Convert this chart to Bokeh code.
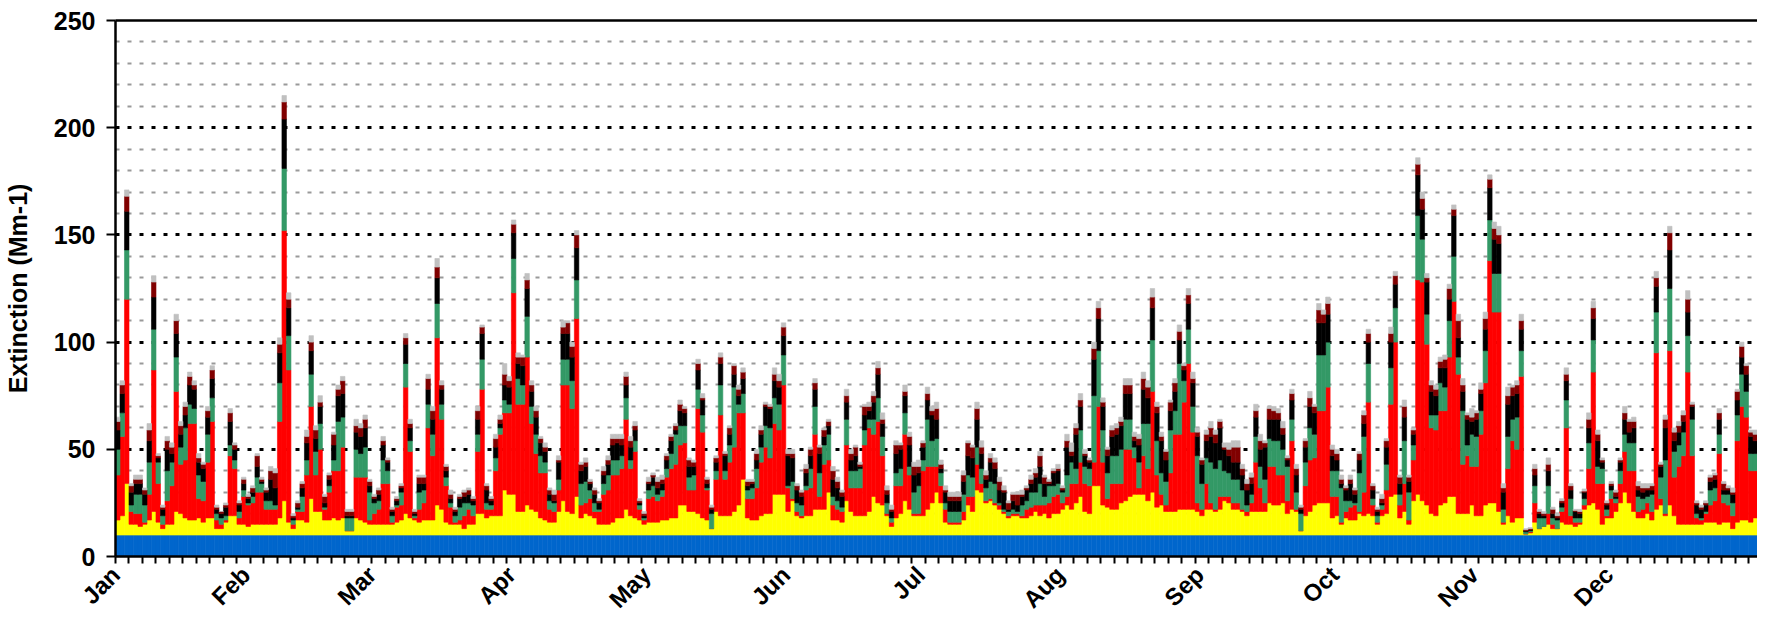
import math
import numpy as np
from bokeh.plotting import figure
from bokeh.models import Range1d, FixedTicker, ColumnDataSource, LinearAxis
from bokeh.embed import file_html
from bokeh.resources import INLINE

# ---- data: cumulative stack levels (Mm-1), one value per day ----
RAYLEIGH = 10

sulfate_top = [
    17, 19, 34, 15, 15, 14, 15, 17, 21, 16,
    13, 15, 15, 21, 20, 18, 17, 17, 18, 16,
    18, 18, 13, 13, 16, 19, 19, 15, 15, 14,
    15, 15, 15, 15, 15, 15, 18, 26, 16, 13,
    17, 17, 16, 27, 21, 21, 17, 17, 18, 17,
    18, 12, 12, 18, 17, 16, 15, 15, 15, 15,
    15, 15, 16, 17, 20, 18, 17, 16, 17, 17,
    17, 24, 22, 16, 15, 15, 15, 13, 15, 15,
    20, 20, 18, 19, 19, 19, 31, 29, 29, 21,
    21, 24, 22, 21, 18, 17, 16, 16, 21, 26,
    21, 20, 28, 18, 20, 19, 18, 15, 15, 15,
    16, 18, 18, 22, 19, 18, 17, 15, 16, 16,
    16, 17, 17, 18, 18, 24, 24, 21, 21, 20,
    18, 17, 13, 21, 19, 19, 19, 21, 24, 36,
    18, 17, 17, 19, 20, 20, 29, 29, 29, 21,
    26, 19, 18, 19, 19, 22, 22, 22, 30, 17,
    17, 16, 26, 21, 19, 19, 19, 21, 28, 25,
    24, 19, 14, 18, 20, 26, 22, 19, 19, 19,
    22, 25, 30, 25, 16, 15, 15, 15, 17, 24,
    21, 31, 30, 25, 26, 24, 22, 20, 18, 19,
    19, 18, 18, 19, 21, 19, 20, 18, 20, 20,
    22, 24, 22, 25, 28, 21, 20, 33, 33, 24,
    23, 22, 22, 25, 26, 28, 29, 29, 29, 26,
    30, 23, 24, 21, 21, 21, 22, 22, 22, 22,
    21, 19, 22, 22, 21, 22, 26, 25, 22, 22,
    21, 19, 21, 21, 21, 21, 25, 24, 24, 25,
    20, 22, 21, 12, 19, 21, 24, 25, 25, 25,
    18, 19, 15, 18, 17, 17, 20, 19, 20, 19,
    15, 19, 20, 28, 29, 18, 21, 15, 26, 29,
    26, 24, 20, 19, 24, 25, 28, 28, 20, 20,
    20, 24, 19, 19, 24, 25, 25, 21, 15, 19,
    16, 18, 18, 10.5, 11, 16, 13, 14, 15, 13,
    13, 16, 15, 15, 14, 15, 22, 24, 25, 22,
    15, 18, 18, 21, 25, 30, 25, 21, 18, 18,
    20, 17, 22, 24, 19, 24, 19, 15, 15, 15,
    15, 15, 15, 16, 16, 16, 15, 16, 16, 13,
    16, 17, 17, 16, 18,
]

nitrate_top = [
    38, 56, 120, 21, 20, 20, 16, 29, 87, 34,
    15, 26, 33, 77, 43, 45, 62, 62, 27, 26,
    44, 63, 17, 15, 17, 47, 41, 18, 28, 24,
    25, 30, 30, 22, 22, 22, 63, 152, 87, 15,
    21, 21, 38, 70, 38, 50, 22, 30, 40, 40,
    51, 12, 12, 37, 37, 37, 17, 20, 22, 34,
    34, 16, 23, 24, 79, 49, 18, 22, 25, 60,
    47, 102, 64, 33, 23, 16, 17, 19, 22, 19,
    49, 78, 22, 22, 40, 57, 67, 67, 123, 71,
    71, 93, 62, 48, 39, 39, 22, 21, 31, 80,
    80, 69, 111, 24, 25, 27, 21, 21, 29, 31,
    38, 38, 41, 64, 41, 49, 22, 17, 27, 28,
    26, 28, 37, 41, 43, 52, 53, 31, 31, 69,
    58, 31, 13, 36, 66, 36, 44, 51, 67, 67,
    27, 27, 32, 44, 51, 46, 62, 59, 80, 32,
    27, 21, 19, 31, 32, 57, 28, 43, 45, 24,
    22, 21, 52, 32, 32, 32, 52, 60, 57, 63,
    47, 20, 16, 33, 33, 57, 38, 20, 20, 40,
    42, 42, 42, 33, 22, 16, 16, 16, 21, 28,
    28, 43, 34, 26, 27, 25, 24, 21, 19, 20,
    20, 19, 22, 23, 24, 24, 24, 25, 28, 29,
    25, 28, 34, 34, 44, 34, 33, 44, 70, 44,
    27, 34, 34, 34, 50, 50, 46, 32, 47, 41,
    77, 38, 29, 24, 39, 57, 57, 72, 90, 58,
    25, 22, 34, 25, 22, 28, 28, 28, 25, 25,
    22, 21, 25, 44, 32, 25, 42, 42, 38, 38,
    26, 54, 22, 12, 33, 45, 46, 68, 68, 79,
    28, 28, 16, 21, 23, 24, 21, 30, 72, 24,
    16, 22, 31, 71, 100, 24, 34, 17, 45, 129,
    128, 99, 60, 59, 68, 68, 93, 119, 85, 43,
    47, 42, 42, 57, 81, 138, 114, 114, 16, 41,
    54, 50, 84, 10.5, 11.5, 25, 13, 14, 20, 15,
    13, 21, 60, 19, 16, 16, 24, 41, 86, 34,
    34, 19, 27, 25, 34, 49, 40, 40, 21, 22,
    25, 21, 95, 27, 20, 96, 37, 42, 47, 86,
    47, 18, 17, 20, 24, 26, 48, 25, 24, 19,
    54, 70, 65, 40, 40,
]

organic_top = [
    50, 67, 143, 24, 29, 29, 24, 44, 106, 44,
    19, 40, 44, 93, 51, 60, 71, 69, 38, 35,
    57, 74, 20, 18, 19, 52, 45, 21, 31, 25,
    28, 37, 34, 26, 26, 24, 81, 181, 103, 17,
    22, 28, 45, 85, 49, 62, 23, 33, 45, 63,
    65, 18, 18, 50, 48, 51, 30, 25, 26, 45,
    40, 19, 24, 30, 90, 54, 19, 30, 31, 71,
    57, 118, 71, 37, 25, 19, 23, 25, 25, 24,
    57, 92, 25, 24, 46, 60, 73, 71, 139, 83,
    80, 112, 70, 57, 47, 44, 26, 25, 36, 92,
    92, 82, 129, 34, 35, 31, 25, 22, 34, 38,
    45, 45, 47, 74, 45, 54, 24, 18, 31, 33,
    29, 31, 41, 48, 57, 61, 61, 37, 38, 78,
    66, 32, 20, 40, 80, 40, 52, 79, 71, 76,
    31, 32, 41, 51, 61, 60, 74, 71, 94, 33,
    35, 25, 24, 33, 41, 70, 39, 52, 57, 28,
    26, 23, 64, 40, 40, 41, 59, 64, 64, 74,
    56, 25, 18, 39, 41, 67, 42, 30, 33, 45,
    64, 54, 55, 39, 25, 21, 21, 21, 29, 38,
    37, 51, 41, 32, 35, 34, 25, 22, 21, 22,
    21, 24, 26, 30, 30, 34, 28, 33, 33, 34,
    30, 38, 44, 41, 59, 42, 41, 75, 96, 59,
    39, 47, 47, 50, 64, 64, 51, 44, 62, 62,
    101, 54, 39, 35, 59, 68, 90, 82, 106, 70,
    47, 34, 46, 44, 41, 45, 40, 39, 36, 36,
    31, 24, 29, 56, 42, 36, 55, 54, 54, 50,
    42, 64, 30, 20, 44, 60, 57, 94, 94, 100,
    40, 40, 32, 26, 26, 25, 39, 56, 90, 27,
    19, 24, 43, 88, 116, 29, 54, 30, 52, 159,
    148, 113, 66, 66, 81, 79, 110, 140, 93, 68,
    52, 57, 56, 68, 96, 157, 132, 132, 22, 56,
    64, 65, 96, 11.5, 12, 33, 18, 18, 33, 18,
    17, 23, 73, 27, 18, 18, 27, 53, 101, 42,
    41, 22, 31, 27, 40, 57, 53, 53, 28, 27,
    28, 29, 114, 37, 45, 125, 49, 52, 58, 103,
    64, 20, 18, 21, 31, 32, 57, 29, 29, 25,
    66, 85, 77, 48, 48,
]

ec_top = [
    59, 76, 161, 30, 34, 34, 29, 54, 121, 46,
    22, 50, 48, 104, 57, 66, 80, 78, 44, 41,
    65, 83, 22, 20, 23, 63, 50, 24, 34, 27,
    30, 42, 35, 30, 36, 32, 95, 204, 116, 18,
    23, 32, 53, 96, 55, 70, 25, 36, 52, 75,
    76, 19, 19, 58, 56, 60, 33, 27, 29, 52,
    44, 21, 26, 32, 99, 60, 20, 34, 34, 78,
    64, 130, 78, 40, 27, 21, 27, 28, 29, 26,
    64, 104, 31, 26, 51, 62, 80, 79, 151, 90,
    89, 125, 77, 65, 53, 49, 29, 26, 44, 104,
    104, 93, 144, 40, 42, 34, 29, 25, 38, 43,
    52, 53, 52, 80, 51, 59, 25, 19, 34, 37,
    32, 34, 45, 54, 59, 68, 67, 42, 42, 87,
    73, 34, 22, 44, 90, 47, 57, 85, 75, 83,
    33, 34, 45, 57, 70, 69, 82, 79, 103, 47,
    46, 31, 28, 39, 47, 78, 48, 56, 61, 36,
    32, 28, 72, 45, 47, 42, 66, 68, 72, 85,
    62, 29, 21, 48, 50, 75, 52, 38, 39, 51,
    73, 66, 64, 41, 30, 26, 26, 26, 35, 47,
    46, 64, 48, 36, 44, 41, 31, 30, 22, 26,
    24, 28, 31, 34, 37, 42, 34, 34, 39, 40,
    31, 51, 47, 57, 70, 47, 44, 92, 111, 70,
    47, 56, 57, 61, 76, 76, 54, 52, 78, 74,
    116, 67, 54, 45, 68, 77, 101, 87, 118, 81,
    56, 43, 54, 56, 53, 60, 50, 47, 44, 44,
    38, 31, 34, 65, 50, 51, 64, 64, 64, 57,
    45, 73, 38, 22, 51, 70, 67, 109, 109, 113,
    47, 45, 34, 31, 34, 29, 45, 62, 100, 31,
    21, 25, 51, 100, 127, 34, 65, 35, 57, 178,
    162, 128, 77, 75, 88, 88, 120, 159, 102, 77,
    64, 63, 64, 76, 106, 172, 148, 146, 30, 71,
    75, 76, 106, 12, 12.5, 38, 20, 19, 40, 20,
    18, 25, 82, 31, 21, 20, 30, 60, 111, 54,
    44, 24, 33, 28, 44, 64, 58, 60, 31, 30,
    31, 31, 126, 42, 60, 143, 54, 58, 63, 114,
    70, 24, 22, 24, 35, 36, 64, 31, 31, 29,
    73, 93, 85, 56, 54,
]

soil_top = [
    63, 80, 168, 33, 36, 36, 31, 59, 128, 47,
    23, 54, 51, 110, 61, 70, 84, 80, 46, 43,
    68, 87, 23, 21, 24, 67, 52, 25, 36, 28,
    32, 47, 36, 31, 40, 39, 99, 212, 120, 19,
    25, 34, 56, 100, 59, 72, 28, 38, 57, 78,
    82, 21, 21, 61, 60, 64, 35, 28, 31, 54,
    45, 22, 27, 33, 102, 62, 21, 37, 37, 83,
    68, 135, 80, 42, 29, 22, 28, 30, 31, 27,
    68, 107, 33, 27, 55, 64, 85, 82, 155, 93,
    93, 129, 80, 68, 55, 51, 31, 29, 45, 107,
    109, 98, 150, 43, 44, 35, 31, 26, 40, 45,
    55, 55, 55, 84, 54, 61, 26, 20, 35, 38,
    35, 36, 47, 56, 61, 71, 69, 45, 44, 90,
    74, 36, 23, 46, 93, 48, 60, 89, 78, 86,
    35, 35, 48, 59, 71, 70, 85, 82, 107, 48,
    48, 33, 30, 41, 50, 81, 51, 59, 63, 40,
    35, 30, 75, 48, 51, 43, 70, 70, 75, 88,
    64, 31, 22, 52, 52, 77, 56, 42, 42, 53,
    76, 68, 69, 43, 31, 28, 28, 28, 38, 53,
    51, 69, 51, 38, 46, 44, 35, 31, 25, 29,
    29, 29, 32, 36, 39, 47, 37, 35, 40, 41,
    32, 54, 49, 60, 73, 48, 45, 97, 116, 72,
    50, 59, 60, 63, 80, 80, 56, 55, 83, 79,
    121, 70, 56, 49, 72, 81, 105, 89, 122, 83,
    58, 45, 57, 60, 57, 63, 51, 50, 51, 51,
    41, 34, 37, 68, 54, 53, 69, 68, 67, 60,
    46, 76, 41, 23, 54, 74, 70, 115, 113, 118,
    50, 48, 36, 32, 36, 31, 48, 66, 104, 33,
    22, 27, 54, 104, 131, 37, 70, 37, 59, 183,
    167, 130, 80, 78, 91, 92, 125, 162, 110, 80,
    66, 65, 67, 78, 111, 176, 153, 150, 32, 75,
    79, 80, 110, 12.5, 13, 41, 21, 20, 43, 22,
    19, 26, 85, 33, 21.5, 21, 30.5, 64, 116, 57,
    45, 25, 34, 30, 45, 67, 63, 63, 33, 32,
    32, 33, 130, 43, 64, 151, 58, 61, 66, 120,
    71, 25, 23, 25, 37, 38, 67, 34, 32, 30,
    77, 98, 89, 58, 57,
]

coarse_top = [
    65, 82, 171, 34, 38, 38, 32, 62, 131, 48,
    24, 56, 53, 113, 63, 72, 86, 82, 48, 44,
    70, 89, 24, 21, 25, 69, 53, 26, 37, 29,
    33, 48, 37, 32, 42, 41, 102, 215, 123, 20,
    26, 35, 59, 103, 61, 75, 29, 39, 58, 80,
    84, 22, 22, 64, 62, 66, 36, 29, 32, 56,
    46, 23, 28, 34, 104, 64, 22, 38, 38, 85,
    70, 139, 82, 43, 31, 23, 29, 31, 32, 28,
    70, 108, 34, 28, 57, 66, 90, 84, 157, 95,
    94, 132, 82, 70, 56, 53, 32, 31, 47, 110,
    110, 100, 152, 44, 46, 36, 32, 27, 42, 47,
    57, 57, 57, 86, 56, 63, 27, 21, 37, 39,
    37, 38, 48, 57, 62, 73, 70, 46, 45, 92,
    76, 37, 24, 47, 95, 49, 61, 90, 80, 88,
    36, 36, 50, 61, 72, 71, 88, 85, 109, 50,
    50, 34, 31, 43, 51, 83, 52, 60, 64, 42,
    37, 31, 78, 50, 52, 44, 71, 72, 77, 91,
    67, 33, 24, 54, 53, 80, 58, 44, 45, 54,
    79, 70, 72, 45, 33, 30, 30, 30, 40, 54,
    52, 72, 54, 40, 48, 46, 37, 33, 26, 30,
    30, 31, 33, 38, 41, 49, 38, 36, 41, 43,
    33, 57, 53, 62, 76, 50, 46, 100, 119, 74,
    51, 61, 62, 65, 83, 83, 58, 57, 86, 82,
    125, 72, 58, 50, 73, 83, 108, 90, 125, 86,
    60, 46, 59, 63, 59, 64, 53, 53, 54, 54,
    43, 36, 39, 71, 57, 54, 70, 70, 69, 63,
    47, 78, 43, 24, 55, 77, 71, 118, 115, 121,
    52, 50, 38, 33, 38, 32, 49, 68, 106, 34,
    23, 29, 55, 107, 133, 38, 73, 38, 60, 186,
    170, 132, 82, 80, 93, 94, 127, 164, 113, 83,
    67, 69, 68, 81, 114, 178, 156, 154, 34, 79,
    80, 82, 113, 13, 13.5, 43, 22, 21, 46, 23,
    20, 27, 88, 34, 22, 22, 31.5, 67, 119, 59,
    46, 26, 35, 31, 46, 70, 64, 65, 35, 34,
    34, 34, 133, 44, 66, 154, 60, 63, 68, 124,
    72, 26, 24, 26, 38, 39, 69, 35, 33, 32,
    78, 100, 90, 59, 59,
]

layer_colors = ["#0066CC", "#FFFF00", "#FF0000", "#339966", "#000000", "#800000", "#C0C0C0"]
months = ["Jan", "Feb", "Mar", "Apr", "May", "Jun", "Jul", "Aug", "Sep", "Oct", "Nov", "Dec"]
month_lengths = [31, 28, 31, 30, 31, 30, 31, 31, 30, 31, 30, 31]
y_major = [0, 50, 100, 150, 200, 250]
y_minor = [v for v in range(10, 250, 10) if v % 50 != 0]

# ---- build stack ----
series = [sulfate_top, nitrate_top, organic_top, ec_top, soil_top, coarse_top]
n = min(len(s) for s in series)
days = np.arange(n)
tops = np.vstack([np.full(n, RAYLEIGH, dtype=float)] + [np.asarray(s[:n], dtype=float) for s in series])
tops = np.maximum.accumulate(tops, axis=0)
bottoms = np.vstack([np.zeros(n), tops[:-1]])

FONT = "Liberation Sans"

# layout geometry (pixels): whole figure kept within 1757 x 625 so nothing is rescaled
FIG_W, FIG_H = 1757, 625
LEFT = 115
TOP = 20
BOTTOM = 64
X0, X1 = -0.5, 364.5
px_per_day = (FIG_W - LEFT) / (X1 - X0)

p = figure(width=FIG_W, height=FIG_H,
           x_range=Range1d(X0, X1), y_range=Range1d(0, 250),
           output_backend="svg", toolbar_location=None,
           min_border_left=LEFT, min_border_right=0, min_border_top=TOP, min_border_bottom=BOTTOM)
p.outline_line_color = None
p.background_fill_color = "white"
p.border_fill_color = "white"

for i, color in enumerate(layer_colors):
    src = ColumnDataSource(dict(x=days, bottom=bottoms[i], top=tops[i]))
    p.vbar(x="x", bottom="bottom", top="top", width=1.0, source=src,
           fill_color=color, line_color=color, line_width=0.6)

# ---- y axis & grid ----
p.yaxis.ticker = FixedTicker(ticks=y_major, minor_ticks=y_minor)
p.yaxis.axis_label = "Extinction (Mm-1)"
p.yaxis.axis_label_text_font = FONT
p.yaxis.axis_label_text_font_style = "bold"
p.yaxis.axis_label_text_font_size = "25px"
p.yaxis.axis_label_text_color = "black"
p.yaxis.axis_label_standoff = 19
p.yaxis.major_label_text_font = FONT
p.yaxis.major_label_text_font_style = "bold"
p.yaxis.major_label_text_font_size = "25px"
p.yaxis.major_label_text_color = "black"
p.yaxis.major_label_standoff = 11
p.yaxis.major_tick_out = 9
p.yaxis.major_tick_in = 0
p.yaxis.major_tick_line_width = 2
p.yaxis.minor_tick_line_color = None
p.yaxis.axis_line_width = 2.5
p.yaxis.axis_line_color = "black"

p.xgrid.visible = False
p.ygrid.grid_line_color = "black"
p.ygrid.grid_line_dash = "4 8"
p.ygrid.grid_line_width = 3
p.ygrid.minor_grid_line_color = "#999999"
p.ygrid.minor_grid_line_dash = "4 8"
p.ygrid.minor_grid_line_width = 2

# ---- x axis: tick marks every 3 days, month names rotated 45 degrees ----
month_bounds = np.concatenate([[0], np.cumsum(month_lengths)[:-1]]).astype(float) + X0
label_pos = [round(max(float(b - 9 / px_per_day), X0 + 0.05), 4) for b in month_bounds]
minor_marks = list(np.arange(X0, 365.0, 3.0))
p.xaxis.ticker = FixedTicker(ticks=label_pos, minor_ticks=minor_marks)
p.xaxis.major_label_overrides = {pos: name for pos, name in zip(label_pos, months)}
p.xaxis.major_label_orientation = math.pi / 4
p.xaxis.major_label_text_font = FONT
p.xaxis.major_label_text_font_style = "bold"
p.xaxis.major_label_text_font_size = "24px"
p.xaxis.major_label_text_color = "black"
p.xaxis.major_label_standoff = 7
p.xaxis.major_tick_out = 0
p.xaxis.major_tick_in = 0
p.xaxis.major_tick_line_color = None
p.xaxis.minor_tick_out = 7
p.xaxis.minor_tick_in = 0
p.xaxis.minor_tick_line_width = 2
p.xaxis.minor_tick_line_color = "black"
p.xaxis.axis_line_width = 2.5
p.xaxis.axis_line_color = "black"

# top border line
top_axis = LinearAxis(ticker=FixedTicker(ticks=[]), axis_line_width=2.5, axis_line_color="black",
                      major_tick_line_color=None, minor_tick_line_color=None,
                      major_tick_out=0, major_label_standoff=0, major_label_text_font_size="0px")
p.add_layout(top_axis, "above")

open("out.html", "w").write(file_html(p, INLINE))
